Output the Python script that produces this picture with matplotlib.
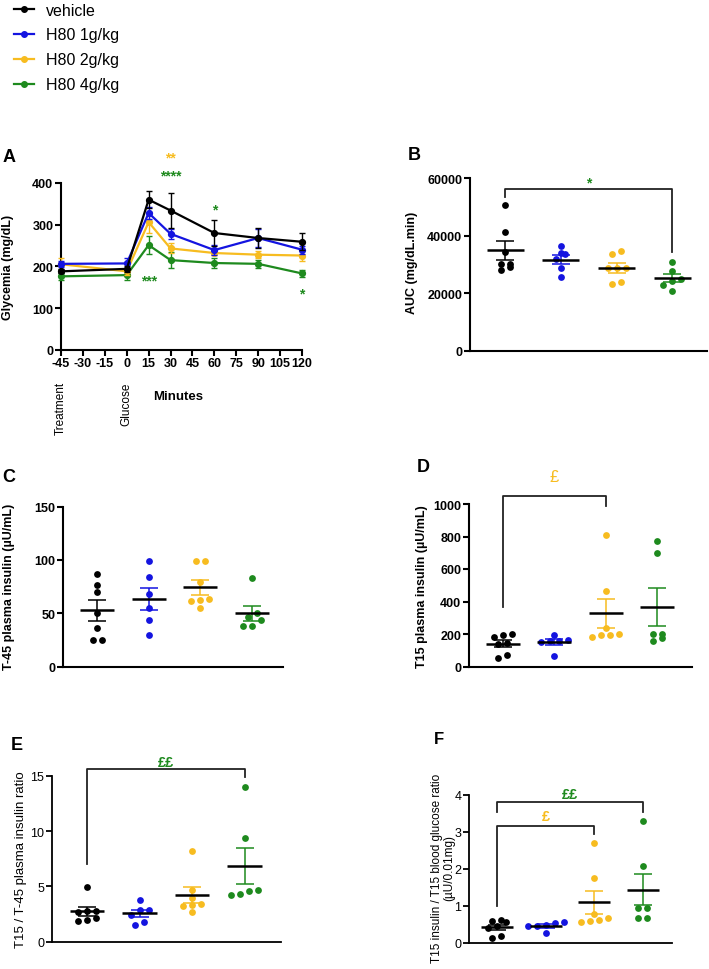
import numpy as np
import matplotlib
matplotlib.use('Agg')
import matplotlib.pyplot as plt
from matplotlib.lines import Line2D

plt.rcParams['font.family'] = ['Liberation Sans', 'DejaVu Sans']
plt.rcParams['axes.unicode_minus'] = False

# ---- data ----
groups = ['vehicle', 'H80 1g/kg', 'H80 2g/kg', 'H80 4g/kg']
colors = ['#000000', '#1414E0', '#F7BC20', '#1E8A1E']

# A: glycemia (mg/dL), mean and SEM per time point
minutes = [-45, 0, 15, 30, 60, 90, 120]
gly_vehicle = [188, 194, 360, 334, 280, 268, 259]
gly_1g = [206, 207, 328, 278, 239, 268, 240]
gly_2g = [205, 188, 306, 243, 232, 228, 226]
gly_4g = [176, 179, 251, 215, 208, 206, 183]
sem_vehicle = [5, 8, 20, 42, 32, 24, 20]
sem_1g = [8, 12, 15, 12, 12, 22, 10]
sem_2g = [15, 8, 25, 12, 5, 8, 12]
sem_4g = [8, 12, 22, 20, 12, 10, 8]

# B: AUC (mg/dL.min)
auc = [[50600, 41400, 34500, 30200, 30200, 29000, 28100],
       [36500, 34000, 33600, 31800, 28700, 25600],
       [34600, 33500, 28900, 28900, 28800, 23800, 23400],
       [30800, 27900, 25000, 24400, 23000, 20700]]

# C: T-45 plasma insulin (uU/mL)
ins_t45 = [[87, 77, 70, 50, 36, 25, 25],
           [99.4, 84.5, 68.4, 54.7, 43.4, 30],
           [98.7, 99.4, 79.4, 63.6, 62.5, 61.7, 54.7],
           [83.2, 50, 46.5, 43.7, 38.3, 38.3]]

# D: T15 plasma insulin (uU/mL)
ins_t15 = [[200, 192, 180, 145, 140, 73, 52],
           [195, 166, 158, 158, 150, 66],
           [810, 467, 240, 200, 195, 195, 184],
           [770, 696, 200, 200, 176, 158]]

# E: T15 / T-45 insulin ratio
ins_ratio = [[4.9, 2.8, 2.75, 2.7, 2.15, 2.0, 1.85],
             [3.8, 2.85, 2.85, 2.45, 1.55, 1.8],
             [8.2, 4.65, 3.95, 3.45, 3.3, 3.2, 2.65],
             [14.0, 9.34, 4.27, 4.66, 4.2, 4.57]]

# F: T15 insulin / T15 glucose ratio
ins_glu = [[0.60, 0.62, 0.55, 0.44, 0.40, 0.19, 0.12],
           [0.53, 0.57, 0.47, 0.44, 0.44, 0.26],
           [2.69, 1.75, 0.77, 0.67, 0.55, 0.58, 0.62],
           [3.28, 2.08, 0.95, 0.95, 0.67, 0.67]]

W, H = 709, 970
fig = plt.figure(figsize=(W / 100, H / 100), dpi=100)


def rect(x0, x1, ytop, ybot):
    return [x0 / W, 1 - ybot / H, (x1 - x0) / W, (ybot - ytop) / H]


def ftext(x, y, s, **kw):
    fig.text(x / W, 1 - y / H, s, **kw)


def style_axes(ax, lw=1.5, bold=True):
    for s in ['top', 'right']:
        ax.spines[s].set_visible(False)
    for s in ['left', 'bottom']:
        ax.spines[s].set_linewidth(lw)
    ax.tick_params(width=lw, length=4, labelsize=9, pad=1.5)
    for lab in ax.get_yticklabels() + ax.get_xticklabels():
        lab.set_fontweight('bold' if bold else 'normal')


def swarm(vals, ax, d_px=9, row_px=6):
    bb = ax.get_position()
    h_px = bb.height * H
    w_px = bb.width * W
    y0, y1 = ax.get_ylim()
    x0, x1 = ax.get_xlim()
    ppu_y = h_px / (y1 - y0)
    ppu_x = w_px / (x1 - x0)
    order = np.argsort(vals)
    rows = []
    for i in order:
        if rows and (vals[i] - vals[rows[-1][0]]) * ppu_y < row_px:
            rows[-1].append(i)
        else:
            rows.append([i])
    offs = np.zeros(len(vals))
    for r in rows:
        n = len(r)
        for k, i in enumerate(r):
            offs[i] = (k - (n - 1) / 2) * d_px / ppu_x
    return offs


def dot_panel(ax, data, ylim, yticks, xlim, bold=True, lw=1.5):
    ax.set_xlim(xlim)
    ax.set_ylim(ylim)
    ax.set_yticks(yticks)
    for i, (vals, c) in enumerate(zip(data, colors)):
        vals = np.asarray(vals, float)
        off = swarm(vals, ax)
        ax.scatter(i + off, vals, s=24, color=c, linewidths=0, zorder=3, clip_on=False)
        m = vals.mean()
        sem = vals.std(ddof=1) / np.sqrt(len(vals))
        ax.errorbar(i, m, yerr=sem, color=c, capsize=6.5, elinewidth=1.1,
                    capthick=1.1, zorder=4)
        ax.hlines(m, i - 0.33, i + 0.33, color='black', lw=1.8, zorder=5)
    style_axes(ax, lw=lw, bold=bold)
    ax.tick_params(axis='x', bottom=False, labelbottom=False)


def bracket(ax, i, j, top, left_bot, right_bot, lw=1.3):
    ax.plot([i, i, j, j], [left_bot, top, top, right_bot], color='#222222',
            lw=lw, clip_on=False, zorder=6)


# ---------- A ----------
axA = fig.add_axes(rect(61, 302, 184, 350.7))
series = [gly_4g, gly_2g, gly_1g, gly_vehicle]
sems = [sem_4g, sem_2g, sem_1g, sem_vehicle]
cols = colors[::-1]
for k, (m, s, c) in enumerate(zip(series, sems, cols)):
    axA.errorbar(minutes, m, yerr=s, color=c, marker='o', ms=4.2, lw=1.6,
                 elinewidth=1, capsize=2.5, capthick=1, zorder=3 + k, clip_on=False)
axA.set_xlim(-45, 120)
axA.set_ylim(0, 400)
axA.set_xticks(range(-45, 121, 15))
axA.set_yticks([0, 100, 200, 300, 400])
style_axes(axA)
ystar = colors[2]
gstar = colors[3]
axA.text(30, 462, '**', color=ystar, ha='center', va='center', fontsize=10, fontweight='bold', clip_on=False)
axA.text(30, 418, '****', color=gstar, ha='center', va='center', fontsize=10, fontweight='bold', clip_on=False)
axA.text(60, 336, '*', color=gstar, ha='center', va='center', fontsize=10, fontweight='bold')
axA.text(15.5, 166, '***', color=gstar, ha='center', va='center', fontsize=10, fontweight='bold')
axA.text(120, 134, '*', color=gstar, ha='center', va='center', fontsize=10, fontweight='bold', clip_on=False)
trA = axA.get_xaxis_transform()
axA.text(-45, -0.19, 'Treatment', transform=trA, rotation=90, ha='center', va='top', fontsize=8.5)
axA.text(0, -0.19, 'Glucose', transform=trA, rotation=90, ha='center', va='top', fontsize=8.5)
axA.text(0.485, -0.275, 'Minutes', transform=axA.transAxes, ha='center', va='center',
         fontsize=9.5, fontweight='bold')
ftext(8, 267, 'Glycemia (mg/dL)', rotation=90, ha='center', va='center', fontsize=9, fontweight='bold')
ftext(9, 157, 'A', ha='center', va='center', fontsize=13, fontweight='bold')

# legend
handles = [Line2D([0], [0], color=c, marker='o', ms=4, lw=1.6) for c in colors]
fig.legend(handles, groups, loc='upper left', bbox_to_anchor=(4 / W, 1 + 6 / H),
           frameon=False, fontsize=11.5, handlelength=1.3, handletextpad=0.7,
           labelspacing=0.62, borderaxespad=0.2)

# ---------- B ----------
axB = fig.add_axes(rect(470, 707, 179, 352))
dot_panel(axB, auc, (0, 60000), [0, 20000, 40000, 60000], (-0.63, 3.62))
bracket(axB, 0, 3, 56200, 53400, 34300)
axB.text(1.5, 58300, '*', color=gstar, ha='center', va='center', fontsize=10, fontweight='bold')
ftext(412, 263, 'AUC (mg/dL.min)', rotation=90, ha='center', va='center', fontsize=9, fontweight='bold')
ftext(414, 155, 'B', ha='center', va='center', fontsize=13, fontweight='bold')

# ---------- C ----------
axC = fig.add_axes(rect(63, 283, 507.7, 667.6))
dot_panel(axC, ins_t45, (0, 150), [0, 50, 100, 150], (-0.66, 3.6))
ftext(9, 587, 'T-45 plasma insulin (µU/mL)', rotation=90, ha='center', va='center', fontsize=9, fontweight='bold')
ftext(9, 477, 'C', ha='center', va='center', fontsize=13, fontweight='bold')

# ---------- D ----------
axD = fig.add_axes(rect(469, 692, 505, 667.5))
dot_panel(axD, ins_t15, (0, 1000), [0, 200, 400, 600, 800, 1000], (-0.66, 3.67))
bracket(axD, 0, 2, 1049, 366, 985)
axD.text(1.0, 1172, '£', color=ystar, ha='center', va='center', fontsize=12, clip_on=False)
ftext(422, 587, 'T15 plasma insulin (µU/mL)', rotation=90, ha='center', va='center', fontsize=9, fontweight='bold')
ftext(423, 467, 'D', ha='center', va='center', fontsize=13, fontweight='bold')

# ---------- E ----------
axE = fig.add_axes(rect(52, 281, 776.7, 942.7))
dot_panel(axE, ins_ratio, (0, 15), [0, 5, 10, 15], (-0.665, 3.69), bold=False, lw=1.3)
bracket(axE, 0, 3, 15.6, 7.0, 14.85)
axE.text(1.5, 16.25, '££', color=gstar, ha='center', va='center', fontsize=10.5, fontweight='bold', clip_on=False)
ftext(21, 860, 'T15 / T-45 plasma insulin ratio', rotation=90, ha='center', va='center', fontsize=9.5)
ftext(17, 746, 'E', ha='center', va='center', fontsize=13, fontweight='bold')

# ---------- F ----------
axF = fig.add_axes(rect(469, 672, 795.7, 943.7))
dot_panel(axF, ins_glu, (0, 4), [0, 1, 2, 3, 4], (-0.575, 3.6), bold=False, lw=1.3)
bracket(axF, 0, 3, 3.8, 3.53, 3.53)
bracket(axF, 0, 2, 3.15, 1.0, 2.93)
axF.text(1.5, 4.03, '££', color=gstar, ha='center', va='center', fontsize=10.5, fontweight='bold', clip_on=False)
axF.text(1.0, 3.42, '£', color=ystar, ha='center', va='center', fontsize=10.5, fontweight='bold')
ftext(443, 868, 'T15 insulin / T15 blood glucose ratio\n(µU/0.01mg)', rotation=90,
      ha='center', va='center', fontsize=8.5, linespacing=1.0)
ftext(439, 740, 'F', ha='center', va='center', fontsize=12, fontweight='bold')

fig.savefig('out.png', dpi=100)
